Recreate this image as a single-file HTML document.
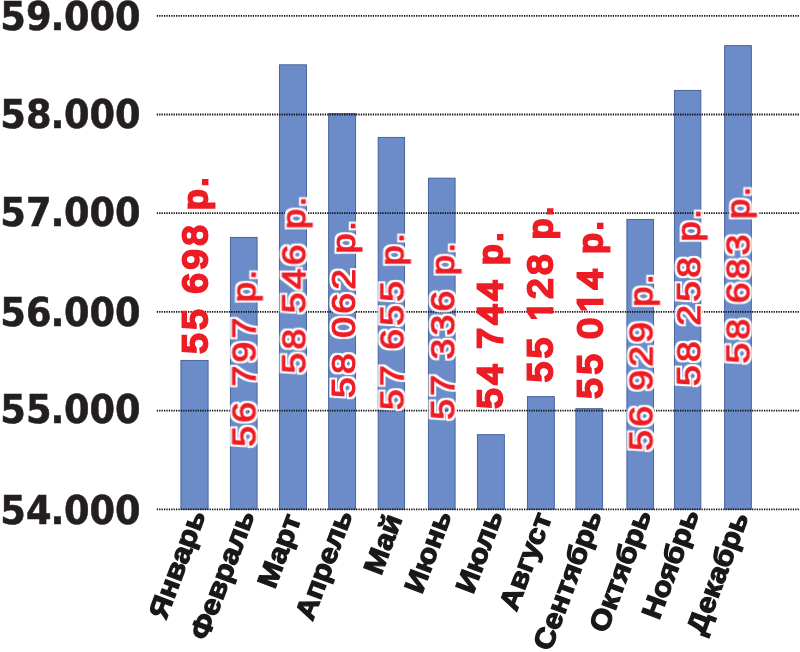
<!DOCTYPE html>
<html lang="ru"><head><meta charset="utf-8"><title>Chart</title>
<style>
html,body{margin:0;padding:0;background:#fff;}
body{width:800px;height:652px;overflow:hidden;}
svg{display:block;}
.yl{font-family:"DejaVu Sans","Liberation Sans",sans-serif;font-weight:bold;font-size:34.3px;fill:#231f20;stroke:#231f20;stroke-width:0.5px;}
.xl{font-family:"Liberation Sans",sans-serif;font-weight:bold;font-size:27.9px;fill:#1a1718;stroke:#1a1718;stroke-width:1.2;text-anchor:end;}
.vb{font-family:"Liberation Sans",sans-serif;font-weight:normal;font-size:34.5px;fill:#ed1c24;stroke:#ed1c24;stroke-width:2.9px;}
.vo{font-family:"Liberation Sans",sans-serif;font-weight:normal;font-size:33.5px;fill:#ed1c24;stroke:#ed1c24;stroke-width:1.1px;filter:url(#halo);}
.bar{fill:#6b8cc8;stroke:#3f5a98;stroke-width:0.9;}
.grid{stroke:#111;stroke-width:1.8;stroke-dasharray:1.3 1.1;fill:none;}
</style></head>
<body>
<svg width="800" height="652" viewBox="0 0 800 652">
<defs><filter id="halo" x="-5%" y="-40%" width="110%" height="180%" color-interpolation-filters="sRGB"><feMorphology in="SourceAlpha" operator="dilate" radius="2" result="d"/><feFlood flood-color="#fff"/><feComposite in2="d" operator="in" result="h"/><feMerge><feMergeNode in="h"/><feMergeNode in="SourceGraphic"/></feMerge></filter><clipPath id="c1"><path clip-rule="evenodd" d="M0 0H800V652H0Z M547.6 299.5H555V307.22H547.6Z M547.6 313.55H555V320.6H547.6Z M597.6 291.0H605V298.78H597.6Z M597.6 305.0H605V310.95H597.6Z"/></clipPath></defs>
<rect width="800" height="652" fill="#fff"/>
<g>
<rect class="bar" x="180.90" y="360.40" width="27.20" height="148.90"/>
<rect class="bar" x="230.40" y="237.40" width="26.70" height="271.90"/>
<rect class="bar" x="279.40" y="64.80" width="27.10" height="444.50"/>
<rect class="bar" x="328.65" y="113.65" width="26.95" height="395.65"/>
<rect class="bar" x="378.15" y="137.40" width="26.45" height="371.90"/>
<rect class="bar" x="428.40" y="178.15" width="26.70" height="331.15"/>
<rect class="bar" x="477.40" y="434.65" width="26.95" height="74.65"/>
<rect class="bar" x="527.40" y="396.65" width="26.95" height="112.65"/>
<rect class="bar" x="575.90" y="408.65" width="26.70" height="100.65"/>
<rect class="bar" x="626.90" y="219.40" width="26.70" height="289.90"/>
<rect class="bar" x="674.40" y="90.40" width="26.45" height="418.90"/>
<rect class="bar" x="724.65" y="45.65" width="26.70" height="463.65"/>
</g>
<g>
<line class="grid" x1="156.8" y1="15.8" x2="800" y2="15.8"/>
<line class="grid" x1="156.8" y1="114.5" x2="800" y2="114.5"/>
<line class="grid" x1="156.8" y1="213.2" x2="800" y2="213.2"/>
<line class="grid" x1="156.8" y1="311.9" x2="800" y2="311.9"/>
<line class="grid" x1="156.8" y1="410.6" x2="800" y2="410.6"/>
<line class="grid" x1="156.8" y1="509.3" x2="800" y2="509.3"/>
</g>
<g>
<text class="yl" dx="0 0 -0.9 -0.5 0 0" transform="translate(0.3,29.5) scale(1.072,1.135)">59.000</text>
<text class="yl" dx="0 0 -0.9 -0.5 0 0" transform="translate(0.3,127.6) scale(1.072,1.135)">58.000</text>
<text class="yl" dx="0 0 -0.9 -0.5 0 0" transform="translate(0.3,226.3) scale(1.072,1.135)">57.000</text>
<text class="yl" dx="0 0 -0.9 -0.5 0 0" transform="translate(0.3,325.6) scale(1.072,1.135)">56.000</text>
<text class="yl" dx="0 0 -0.9 -0.5 0 0" transform="translate(0.3,422.8) scale(1.072,1.135)">55.000</text>
<text class="yl" dx="0 0 -0.9 -0.5 0 0" transform="translate(0.3,523.6) scale(1.072,1.135)">54.000</text>
</g>
<g>
<text class="xl" transform="translate(205.8,514.6) rotate(-69.4) scale(1.096,1)">Январь</text>
<text class="xl" transform="translate(254.9,514.8) rotate(-69.4) scale(1.096,1)">Февраль</text>
<text class="xl" transform="translate(301.5,518.5) rotate(-69.4) scale(1.096,1)">Март</text>
<text class="xl" transform="translate(352.8,514.6) rotate(-69.4) scale(1.096,1)">Апрель</text>
<text class="xl" transform="translate(402.6,518.6) rotate(-69.4) scale(1.096,1)">Май</text>
<text class="xl" transform="translate(451.8,515.2) rotate(-69.4) scale(1.096,1)">Июнь</text>
<text class="xl" transform="translate(503.2,515.0) rotate(-69.4) scale(1.096,1)">Июль</text>
<text class="xl" transform="translate(552.2,517.0) rotate(-69.4) scale(1.096,1)">Август</text>
<text class="xl" transform="translate(602.2,514.8) rotate(-69.4) scale(1.096,1)">Сентябрь</text>
<text class="xl" transform="translate(651.7,514.1) rotate(-69.4) scale(1.096,1)">Октябрь</text>
<text class="xl" transform="translate(699.3,513.7) rotate(-69.4) scale(1.096,1)">Ноябрь</text>
<text class="xl" transform="translate(748.8,516.7) rotate(-69.4) scale(1.096,1)">Декабрь</text>
</g>
<g clip-path="url(#c1)">
<text class="vb" letter-spacing="3.7" word-spacing="-2.0" transform="translate(206.8,353.6) scale(1,1.052) rotate(-90)">55 698 <tspan font-size="33.5">р<tspan dx="-0.8">.</tspan></tspan></text>
<text class="vo" letter-spacing="2.85" word-spacing="-1.56" transform="translate(255.5,446.8) scale(1,1.123) rotate(-90)">56 797 <tspan font-size="32.5">р<tspan dx="-0.8">.</tspan></tspan></text>
<text class="vo" letter-spacing="2.85" word-spacing="-1.56" transform="translate(305.3,373.6) scale(1,1.123) rotate(-90)">58 546 <tspan font-size="32.5">р<tspan dx="-0.8">.</tspan></tspan></text>
<text class="vo" letter-spacing="2.85" word-spacing="-1.56" transform="translate(355.0,398.1) scale(1,1.123) rotate(-90)">58 062 <tspan font-size="32.5">р<tspan dx="-0.8">.</tspan></tspan></text>
<text class="vo" letter-spacing="2.85" word-spacing="-1.56" transform="translate(403.5,410.1) scale(1,1.123) rotate(-90)">57 655 <tspan font-size="32.5">р<tspan dx="-0.8">.</tspan></tspan></text>
<text class="vo" letter-spacing="2.85" word-spacing="-1.56" transform="translate(454.2,419.8) scale(1,1.123) rotate(-90)">57 336 <tspan font-size="32.5">р<tspan dx="-0.8">.</tspan></tspan></text>
<text class="vb" letter-spacing="3.7" word-spacing="-2.0" transform="translate(502.1,408.6) scale(1,1.052) rotate(-90)">54 744 <tspan font-size="33.5">р<tspan dx="-0.8">.</tspan></tspan></text>
<text class="vb" dx="0 0 0 1.05 -1.9 0 0" letter-spacing="3.7" word-spacing="-2.0" transform="translate(552.4,382.0) scale(1,1.052) rotate(-90)">55 128 <tspan font-size="33.5">р<tspan dx="-0.8">.</tspan></tspan></text>
<text class="vb" dx="0 0 0 0 1.71 -0.76 0" letter-spacing="3.7" word-spacing="-2.0" transform="translate(602.2,398.4) scale(1,1.052) rotate(-90)">55 014 <tspan font-size="33.5">р<tspan dx="-0.8">.</tspan></tspan></text>
<text class="vo" letter-spacing="2.8" word-spacing="-1.56" transform="translate(652.5,450.8) scale(1,1.123) rotate(-90)">56 929 <tspan font-size="32.5">р<tspan dx="-0.8">.</tspan></tspan></text>
<text class="vo" letter-spacing="2.85" word-spacing="-1.56" transform="translate(700.2,386.1) scale(1,1.123) rotate(-90)">58 258 <tspan font-size="32.5">р<tspan dx="-0.8">.</tspan></tspan></text>
<text class="vo" letter-spacing="2.85" word-spacing="-1.56" transform="translate(749.5,363.6) scale(1,1.123) rotate(-90)">58 683 <tspan font-size="32.5">р<tspan dx="-0.8">.</tspan></tspan></text>
</g>
</svg>
</body></html>
